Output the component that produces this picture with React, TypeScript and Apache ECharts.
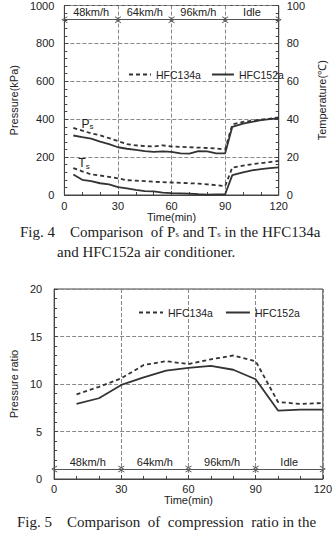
import React, { useEffect, useRef } from "react";
import * as echarts from "echarts";

// Fig. 4 data
const time1 = [5, 10, 15, 20, 25, 30, 35, 40, 45, 50, 55, 60, 65, 70, 75, 80, 85, 90, 94, 100, 105, 110, 115, 120];
const ps134 = [354, 340, 325, 315, 300, 285, 268, 262, 258, 256, 262, 256, 254, 252, 250, 248, 245, 240, 372, 386, 392, 398, 403, 410];
const ps152 = [314, 305, 298, 282, 268, 252, 244, 238, 232, 228, 230, 228, 220, 218, 232, 230, 220, 220, 360, 377, 386, 395, 400, 405];
const ts134 = [14.2, 12.5, 10.9, 10.3, 9.6, 8.8, 7.8, 7.6, 7.3, 7.0, 6.8, 6.6, 6.4, 6.2, 6.0, 5.6, 5.2, 4.7, 14.5, 15.5, 16.2, 16.8, 17.4, 18.0];
const ts152 = [10.8, 8.0, 7.3, 6.2, 5.6, 4.2, 3.5, 2.7, 2.0, 1.9, 1.3, 1.0, 0.9, 0.7, 0.4, 0.2, 0.3, 0.4, 10.5, 12.0, 13.0, 13.7, 14.2, 14.6];

// Fig. 5 data
const time2 = [10, 20, 30, 40, 50, 60, 70, 80, 90, 100, 110, 120];
const ratio134 = [8.9, 9.7, 10.6, 12.0, 12.4, 12.1, 12.6, 13.0, 12.4, 8.1, 7.9, 8.0];
const ratio152 = [7.9, 8.5, 9.9, 10.7, 11.4, 11.7, 11.9, 11.5, 10.5, 7.2, 7.3, 7.3];

// Driving phases
const phaseLabels = ["48km/h", "64km/h", "96km/h", "Idle"];
const phaseBounds = [0, 30, 60, 90, 120];
const phaseLevel1 = 925;
const phaseLevel2 = 1.05;

const seriesNames = ["HFC134a", "HFC152a"];

const SANS = "Liberation Sans, Arial, sans-serif";
const SERIF = "Liberation Serif, Times New Roman, serif";
const INK = "#222";

const chevron = "path://M0,10 L5,0 L10,10 L8.6,10 L5,2.8 L1.4,10 Z";

function zip(xs: number[], ys: number[]) {
  return xs.map((x, i) => [x, ys[i]]);
}

function phaseMarkLine(level: number) {
  return {
    silent: true,
    symbol: [chevron, chevron],
    symbolSize: [7, 6],
    lineStyle: { color: "#555", width: 1, type: "solid" },
    label: {
      show: true,
      position: "middle",
      formatter: "{b}",
      color: INK,
      fontFamily: SANS,
      fontSize: 11,
      distance: 2,
    },
    emphasis: { disabled: true },
    data: phaseLabels.map((name, i) => [
      { coord: [phaseBounds[i], level], name },
      { coord: [phaseBounds[i + 1], level] },
    ]),
  };
}

const axisLabelStyle = { color: INK, fontFamily: SANS, fontSize: 11, formatter: (v: number) => String(v) };
const splitDash = { show: true, lineStyle: { color: "#888", type: "dashed", width: 1 } };

const legendBase = {
  data: seriesNames,
  itemHeight: 10,
  padding: 0,
  width: 200,
  orient: "horizontal",
  textStyle: { color: INK, fontFamily: SANS, fontSize: 10.5 },
  itemStyle: { color: "rgba(0,0,0,0)", borderWidth: 0, opacity: 0 },
  selectedMode: false,
};

export default function App() {
  const ref = useRef<HTMLDivElement>(null);

  useEffect(() => {
    if (!ref.current) return;
    const chart = echarts.init(ref.current, undefined, { renderer: "svg" });
    const xAxisBase = {
      type: "value",
      min: 0,
      max: 120,
      interval: 30,
      name: "Time(min)",
      nameLocation: "middle",
      nameTextStyle: { color: INK, fontFamily: SANS, fontSize: 11 },
      axisLine: { lineStyle: { color: "#444" } },
      axisTick: { inside: true, length: 4, lineStyle: { color: "#444" } },
      minorTick: { show: true, splitNumber: 3, length: 3, lineStyle: { color: "#444" } },
      splitLine: splitDash,
    };
    const lineStyleDashed = { color: "#333", width: 1.8, type: [4, 3] };
    const lineStyleSolid = { color: "#333", width: 1.8, type: "solid" };
    const yAxisCommon = {
      type: "value",
      nameLocation: "middle",
      nameRotate: 90,
      nameTextStyle: { color: INK, fontFamily: SANS, fontSize: 11 },
      axisLine: { show: true, lineStyle: { color: "#444" } },
      axisTick: { show: true, inside: true, length: 4, lineStyle: { color: "#444" } },
      minorTick: { show: true, splitNumber: 5, length: 3, lineStyle: { color: "#444" } },
    };

    chart.setOption({
      animation: false,
      grid: [
        { left: 50, right: 36, top: 5, height: 190, show: true, borderColor: "#444", borderWidth: 1 },
        { left: 37, right: 12, top: 289, height: 190, show: true, borderColor: "#444", borderWidth: 1 },
      ],
      xAxis: [
        { ...xAxisBase, gridIndex: 0, nameGap: 13, axisLabel: { ...axisLabelStyle, margin: 5 } },
        { ...xAxisBase, gridIndex: 1, nameGap: 14, axisLabel: { ...axisLabelStyle, margin: 4 } },
      ],
      yAxis: [
        {
          ...yAxisCommon,
          gridIndex: 0,
          min: 0,
          max: 1000,
          interval: 200,
          name: "Pressure(kPa)",
          nameGap: 40,
          axisLabel: { ...axisLabelStyle, margin: 10 },
          splitLine: splitDash,
        },
        {
          ...yAxisCommon,
          gridIndex: 0,
          position: "right",
          min: 0,
          max: 100,
          interval: 20,
          name: "Temperature(\u2103)",
          nameGap: 29,
          axisLabel: { ...axisLabelStyle, margin: 8 },
          splitLine: { show: false },
        },
        {
          ...yAxisCommon,
          gridIndex: 1,
          min: 0,
          max: 20,
          interval: 5,
          name: "Pressure ratio",
          nameGap: 27,
          axisLabel: { ...axisLabelStyle, margin: 12 },
          splitLine: splitDash,
        },
      ],
      legend: [
        { ...legendBase, left: 128, top: 69, itemWidth: 22, itemGap: 10 },
        { ...legendBase, left: 138, top: 307, itemWidth: 24, itemGap: 12 },
      ],
      series: [
        {
          name: seriesNames[0],
          type: "line",
          xAxisIndex: 0,
          yAxisIndex: 0,
          symbol: "none",
          data: zip(time1, ps134),
          lineStyle: lineStyleDashed,
          itemStyle: { color: "#333" },
          markLine: phaseMarkLine(phaseLevel1),
          markPoint: {
            symbol: "rect",
            symbolSize: 0,
            silent: true,
            data: [{ coord: [13, 375], value: "Ps" }],
            label: {
              show: true,
              formatter: "{a|P}{b|s}",
              rich: {
                a: { fontFamily: SANS, fontSize: 12, color: INK },
                b: { fontFamily: SANS, fontSize: 8, color: INK, padding: [6, 0, 0, 0] },
              },
            },
          },
        },
        {
          name: seriesNames[1],
          type: "line",
          xAxisIndex: 0,
          yAxisIndex: 0,
          symbol: "none",
          data: zip(time1, ps152),
          lineStyle: lineStyleSolid,
          itemStyle: { color: "#333" },
        },
        {
          name: seriesNames[0],
          type: "line",
          xAxisIndex: 0,
          yAxisIndex: 1,
          symbol: "none",
          data: zip(time1, ts134),
          lineStyle: lineStyleDashed,
          itemStyle: { color: "#333" },
          markPoint: {
            symbol: "rect",
            symbolSize: 0,
            silent: true,
            data: [{ coord: [11, 16.8], value: "Ts" }],
            label: {
              show: true,
              formatter: "{a|T}{b|s}",
              rich: {
                a: { fontFamily: SANS, fontSize: 12, color: INK },
                b: { fontFamily: SANS, fontSize: 8, color: INK, padding: [6, 0, 0, 0] },
              },
            },
          },
        },
        {
          name: seriesNames[1],
          type: "line",
          xAxisIndex: 0,
          yAxisIndex: 1,
          symbol: "none",
          data: zip(time1, ts152),
          lineStyle: lineStyleSolid,
          itemStyle: { color: "#333" },
        },
        {
          name: seriesNames[0],
          type: "line",
          xAxisIndex: 1,
          yAxisIndex: 2,
          symbol: "none",
          data: zip(time2, ratio134),
          lineStyle: lineStyleDashed,
          itemStyle: { color: "#333" },
          markLine: phaseMarkLine(phaseLevel2),
        },
        {
          name: seriesNames[1],
          type: "line",
          xAxisIndex: 1,
          yAxisIndex: 2,
          symbol: "none",
          data: zip(time2, ratio152),
          lineStyle: lineStyleSolid,
          itemStyle: { color: "#333" },
        },
      ],
      graphic: [
        {
          type: "text",
          left: 20,
          top: 224,
          style: {
            text: "Fig. 4    Comparison  of P{s|s} and T{s|s} in the HFC134a",
            rich: { s: { fontSize: 9, fontFamily: SERIF, fill: INK, padding: [5, 0, 0, 0] } },
            font: `15px ${SERIF}`,
            fill: INK,
          },
        },
        {
          type: "text",
          left: 57,
          top: 244,
          style: { text: "and HFC152a air conditioner.", font: `15px ${SERIF}`, fill: INK },
        },
        {
          type: "text",
          left: 17,
          top: 514,
          style: { text: "Fig. 5    Comparison  of  compression  ratio in the", font: `15px ${SERIF}`, fill: INK },
        },
      ],
    });
    return () => chart.dispose();
  }, []);

  return (
    <div
      ref={ref}
      style={{ position: "fixed", left: 0, top: 0, width: 335, height: 533, background: "#fff" }}
    />
  );
}
